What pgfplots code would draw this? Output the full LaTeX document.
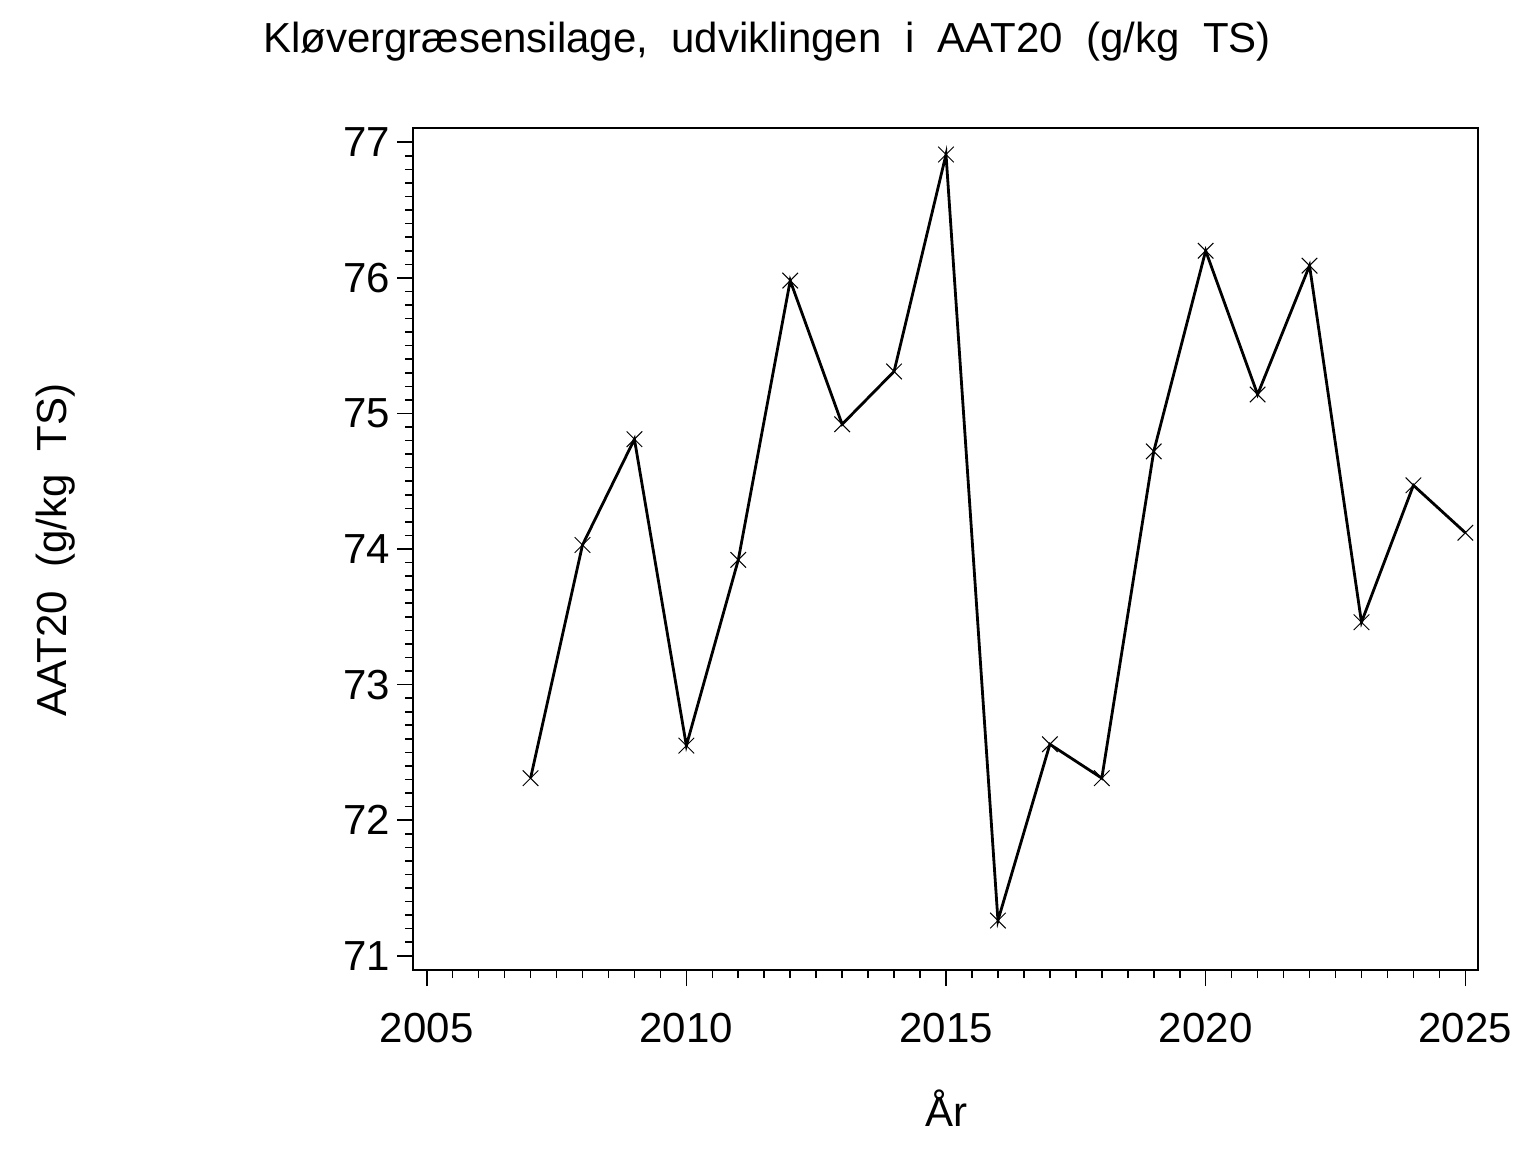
\documentclass[border=0pt]{standalone}
\usepackage{fontspec}
\setmainfont{Liberation Sans}
\usepackage{pgfplots}
\pgfplotsset{compat=1.18}
\begin{document}
\fontsize{21bp}{24bp}\selectfont
\begin{tikzpicture}
\useasboundingbox (0bp,0bp) rectangle (768bp,-576bp);
\begin{axis}[
  at={(206.65bp,-485bp)}, anchor=south west,
  scale only axis,
  width=532.5bp, height=420.85bp,
  xmin=2004.742, xmax=2025.25,
  ymin=70.895, ymax=77.103,
  xtick={2005,2010,...,2025},
  ytick={71,72,...,77},
  minor x tick num=9,
  minor y tick num=9,
  tick align=outside,
  xtick pos=bottom, ytick pos=left,
  major tick length=8bp,
  minor tick length=4bp,
  every tick/.style={black, line width=0.8bp},
  axis line style={line width=0.9bp},
  /pgf/number format/assume math mode=true,
  xticklabel style={/pgf/number format/1000 sep=, font=\fontsize{21bp}{24bp}\selectfont, yshift=-13.5bp},
  yticklabel style={font=\fontsize{21bp}{24bp}\selectfont, xshift=-3.5bp},
  ticklabel style={inner sep=0pt},
  clip=false,
]
\addplot[black, line width=1.4bp, mark=x, mark size=5.5bp, mark options={line width=0.5bp}] coordinates {
(2007,72.31) (2008,74.03) (2009,74.81) (2010,72.55) (2011,73.92)
(2012,75.98) (2013,74.92) (2014,75.31) (2015,76.91) (2016,71.26)
(2017,72.56) (2018,72.31) (2019,74.72) (2020,76.20) (2021,75.14)
(2022,76.09) (2023,73.46) (2024,74.47) (2025,74.12)
};
\end{axis}
\node[anchor=base, inner sep=0pt] at (383.5bp,-26bp) {Kløvergræsensilage,\ \ udviklingen\ \ i\ \ AAT20\ \ (g/kg\ \ TS)};
\node[anchor=base, inner sep=0pt, rotate=90] at (33bp,-275bp) {AAT20\ \ (g/kg\ \ TS)};
\node[anchor=base, inner sep=0pt] at (473bp,-563bp) {År};
\end{tikzpicture}
\end{document}
